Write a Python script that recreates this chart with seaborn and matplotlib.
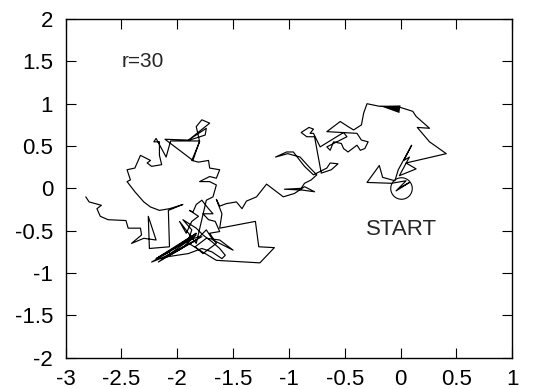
import matplotlib
matplotlib.use("Agg")
import matplotlib.pyplot as plt
import seaborn as sns
import pandas as pd

# Random-walk trajectory, in walk order
walk_x = [0.00, 0.08, -0.04, 0.05, -0.08, -0.30, -0.19, -0.16, -0.05, -0.02,
          0.10, 0.03, 0.08, -0.01, 0.14, 0.05, 0.41, 0.26, 0.15, 0.26,
          0.14, 0.11, -0.01, -0.19, -0.30, -0.33, -0.35, -0.42, -0.47, -0.54,
          -0.66, -0.39, -0.35, -0.29, -0.32, -0.36, -0.39, -0.47, -0.51, -0.53,
          -0.60, -0.63, -0.66, -0.48, -0.51, -0.72, -0.78, -0.81, -0.78, -0.82,
          -0.89, -0.84, -0.77,
          -0.71, -0.62, -0.56, -0.63, -0.66, -0.78, -0.86, -0.89,
          -0.96, -1.02, -1.12, -1.01, -0.90, -0.81, -0.75, -0.80, -0.86, -0.89,
          -1.04, -0.88, -0.77, -0.86, -0.95, -1.05,
          -1.20, -1.29, -1.38, -1.42, -1.47, -1.56, -1.62, -1.65, -1.60, -1.62,
          -1.30, -1.27, -1.13, -1.26, -1.65, -1.80,
          -1.92, -1.83, -1.96, -2.04, -2.23, -2.07, -2.16, -1.98, -2.19, -1.83,
          -2.10, -1.87,
          -2.17, -1.78, -2.14, -1.83, -2.10, -1.90, -1.78, -1.69, -1.60, -1.57,
          -1.62, -1.69, -1.77, -1.83, -1.95,
          -1.87, -1.90,
          -1.80, -1.74, -1.68, -1.50, -1.62, -1.74, -1.84, -1.77, -1.65, -1.71,
          -1.62, -1.66, -1.72, -1.77, -1.68, -1.72, -1.78, -1.83, -1.86, -1.89,
          -1.81, -1.87, -1.92, -1.98, -1.83,
          -1.74, -1.71, -1.68, -1.65, -1.71, -1.80, -1.77, -1.71, -1.65, -1.62,
          -1.71, -1.72, -1.81, -1.87, -1.80, -1.83, -1.78, -1.71, -1.90, -1.74,
          -1.75, -1.89, -2.11, -1.86, -1.80, -2.06, -2.10, -2.19, -2.21, -2.16,
          -2.16, -2.14, -2.23, -2.27, -2.24, -2.33, -2.38, -2.45, -2.42, -2.45,
          -2.38, -2.30, -2.24, -2.16, -2.07, -2.02, -1.95,
          -2.08, -2.07, -2.25, -2.26, -2.19, -2.30, -2.41, -2.32, -2.33, -2.44,
          -2.46, -2.62, -2.69, -2.72, -2.68, -2.79, -2.82]
walk_y = [0.01, 0.07, -0.03, 0.09, 0.06, 0.07, 0.27, 0.13, 0.09, 0.22,
          0.51, 0.33, 0.37, 0.15, 0.23, 0.30, 0.41, 0.55, 0.72, 0.71,
          0.85, 0.91, 0.96, 0.97, 1.00, 0.89, 0.75, 0.69, 0.73, 0.79,
          0.67, 0.65, 0.57, 0.55, 0.47, 0.45, 0.51, 0.43, 0.47, 0.53,
          0.55, 0.45, 0.49, 0.61, 0.66, 0.49, 0.65, 0.65, 0.70, 0.72,
          0.66, 0.61, 0.61,
          0.18, 0.22, 0.29, 0.30, 0.24, 0.16, 0.26, 0.31,
          0.43, 0.43, 0.37, 0.41, 0.37, 0.24, 0.16, 0.10, 0.06, 0.00,
          -0.01, -0.02, -0.04, 0.02, -0.06, -0.10,
          0.05, -0.10, -0.15, -0.24, -0.16, -0.18, -0.21, -0.13, -0.30, -0.47,
          -0.39, -0.69, -0.70, -0.88, -0.85, -0.73,
          -0.63, -0.55, -0.71, -0.77, -0.87, -0.75, -0.81, -0.67, -0.83, -0.53,
          -0.77, -0.59,
          -0.87, -0.57, -0.83, -0.61, -0.81, -0.77, -0.71, -0.75, -0.83, -0.79,
          -0.71, -0.63, -0.55, -0.47, -0.37,
          -0.49, -0.61,
          -0.57, -0.49, -0.61, -0.73, -0.61, -0.59, -0.69, -0.77, -0.65, -0.53,
          -0.51, -0.39, -0.37, -0.30, -0.30, -0.24, -0.14, -0.19, -0.28, -0.26,
          -0.33, -0.39, -0.53, -0.39, -0.65,
          -0.14, -0.12, -0.10, 0.04, 0.08, 0.08, 0.10, 0.14, 0.12, 0.22,
          0.24, 0.33, 0.31, 0.33, 0.55, 0.73, 0.81, 0.77, 0.57, 0.71,
          0.63, 0.57, 0.58, 0.33, 0.56, 0.56, 0.37, 0.59, 0.55, 0.55,
          0.39, 0.28, 0.26, 0.30, 0.33, 0.39, 0.24, 0.22, 0.10, 0.08,
          -0.04, -0.16, -0.22, -0.26, -0.24, -0.22, -0.19,
          -0.26, -0.69, -0.71, -0.33, -0.61, -0.59, -0.65, -0.55, -0.47, -0.47,
          -0.38, -0.37, -0.33, -0.24, -0.20, -0.16, -0.10]

# Starting point (circled) and direction arrowhead
start_x = [0.0]
start_y = [0.0]
arrow_x = [-0.19, 0.0, -0.01]
arrow_y = [0.975, 0.98, 0.89]

x_ticks = [-3, -2.5, -2, -1.5, -1, -0.5, 0, 0.5, 1]
y_ticks = [-2, -1.5, -1, -0.5, 0, 0.5, 1, 1.5, 2]

sns.set_theme(style="ticks")
plt.rcParams['font.family'] = ['Liberation Sans', 'DejaVu Sans']

fig = plt.figure(figsize=(5.34, 3.89), dpi=100)
ax = fig.add_axes([0.123, 0.0805, 0.836, 0.8705])

df = pd.DataFrame({"x": walk_x, "y": walk_y})
sns.lineplot(data=df, x="x", y="y", sort=False, estimator=None,
             color="black", linewidth=0.85, ax=ax)
ax.plot(start_x, start_y, marker="o", markersize=15.5, markerfacecolor="none",
        markeredgecolor="black", markeredgewidth=0.8, linestyle="none")
ax.fill(arrow_x, arrow_y, color="black", linewidth=0)

ax.text(-2.5, 1.5, "r=30", fontsize=15, ha="left", va="center")
ax.text(-0.305, -0.49, "START", fontsize=16, ha="left", va="center")

ax.set_xlim(-3, 1)
ax.set_ylim(-2, 2)
ax.set_xticks(x_ticks)
ax.set_yticks(y_ticks)
ax.set_xticklabels([f"{v:g}" for v in x_ticks])
ax.set_yticklabels([f"{v:g}" for v in y_ticks])
ax.set_xlabel("")
ax.set_ylabel("")
ax.tick_params(direction="in", length=7, width=0.8, top=True, right=True,
               labelsize=16, colors="black")
ax.tick_params(axis="x", pad=8)
ax.tick_params(axis="y", pad=9)
for s in ax.spines.values():
    s.set_linewidth(1.0)
    s.set_color("black")

fig.savefig("out.png", dpi=100)
